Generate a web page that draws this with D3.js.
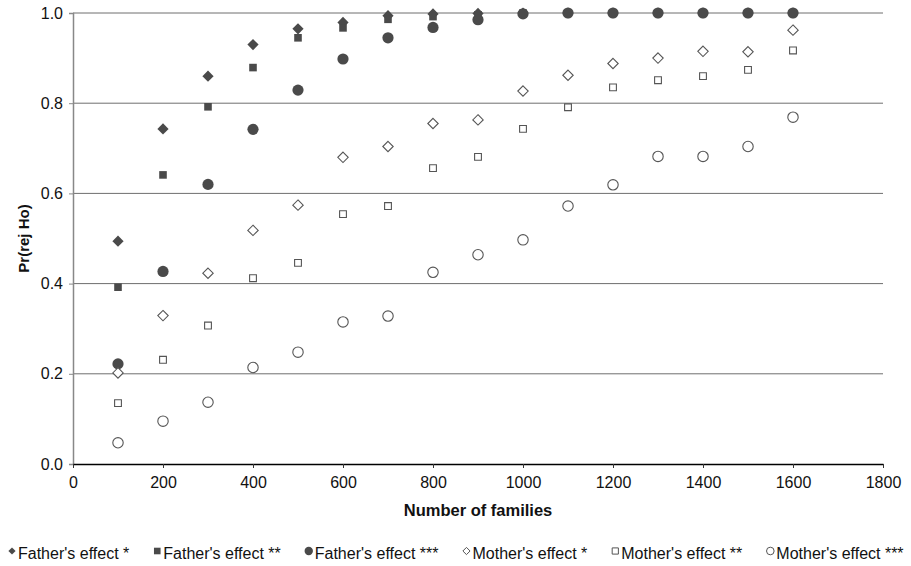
<!DOCTYPE html>
<html>
<head>
<meta charset="utf-8">
<script src="https://cdn.jsdelivr.net/npm/d3@7"></script>
<style>
  body { margin: 0; background: #fff; }
  text { font-family: "Liberation Sans", Arial, sans-serif; }
</style>
</head>
<body>
<script>
// data
var families = [100, 200, 300, 400, 500, 600, 700, 800, 900, 1000, 1100, 1200, 1300, 1400, 1500, 1600];
var fatherOne   = [0.494, 0.743, 0.860, 0.930, 0.965, 0.979, 0.994, 0.998, 0.999, 1, 1, 1, 1, 1, 1, 1];
var fatherTwo   = [0.392, 0.641, 0.792, 0.879, 0.945, 0.967, 0.986, 0.992, 0.996, 1, 1, 1, 1, 1, 1, 1];
var fatherThree = [0.222, 0.427, 0.620, 0.742, 0.829, 0.898, 0.945, 0.968, 0.985, 0.998, 1, 1, 1, 1, 1, 1];
var motherOne   = [0.202, 0.329, 0.423, 0.518, 0.574, 0.680, 0.704, 0.755, 0.763, 0.827, 0.862, 0.888, 0.900, 0.915, 0.914, 0.962];
var motherTwo   = [0.135, 0.231, 0.307, 0.412, 0.446, 0.554, 0.572, 0.656, 0.681, 0.743, 0.791, 0.835, 0.851, 0.860, 0.874, 0.917];
var motherThree = [0.047, 0.095, 0.137, 0.214, 0.248, 0.315, 0.328, 0.425, 0.464, 0.497, 0.572, 0.619, 0.682, 0.682, 0.704, 0.769];
var seriesNames = ["Father's effect *", "Father's effect **", "Father's effect ***",
                   "Mother's effect *", "Mother's effect **", "Mother's effect ***"];
var xTicks = [0, 200, 400, 600, 800, 1000, 1200, 1400, 1600, 1800];
var yTicks = [0, 0.2, 0.4, 0.6, 0.8, 1.0];

var width = 911, height = 566;
var margin = {top: 13, right: 28, bottom: 102, left: 73};
var dark = '#4a4a4a';

var svg = d3.select('body').append('svg').attr('width', width).attr('height', height);

var x = d3.scaleLinear().domain([0, 1800]).range([margin.left, width - margin.right]);
var y = d3.scaleLinear().domain([0, 1]).range([height - margin.bottom, margin.top]);

// shape paths centred on 0,0
function diamond(r) { return 'M0,' + (-r) + 'L' + r + ',0L0,' + r + 'L' + (-r) + ',0Z'; }
function square(r) { return 'M' + (-r) + ',' + (-r) + 'h' + (2*r) + 'v' + (2*r) + 'h' + (-2*r) + 'Z'; }
function circle(r) { return 'M' + r + ',0A' + r + ',' + r + ' 0 1,1 ' + (-r) + ',0A' + r + ',' + r + ' 0 1,1 ' + r + ',0Z'; }

var series = [
  {name: seriesNames[0], values: fatherOne,   shape: diamond, r: 5.6, lr: 3.6, filled: true},
  {name: seriesNames[1], values: fatherTwo,   shape: square,  r: 3.8, lr: 3.3, filled: true},
  {name: seriesNames[2], values: fatherThree, shape: circle,  r: 5.6, lr: 4.2, filled: true},
  {name: seriesNames[3], values: motherOne,   shape: diamond, r: 5.2, lr: 3.6, filled: false},
  {name: seriesNames[4], values: motherTwo,   shape: square,  r: 3.4, lr: 3.1, filled: false},
  {name: seriesNames[5], values: motherThree, shape: circle,  r: 5.2, lr: 3.8, filled: false}
];

// gridlines
svg.append('g').selectAll('line').data(yTicks.slice(1)).enter().append('line')
  .attr('x1', x(0)).attr('x2', x(1800))
  .attr('y1', function(d){ return y(d); }).attr('y2', function(d){ return y(d); })
  .attr('stroke', '#6e6e6e').attr('stroke-width', 1);

// y axis
var yAxis = svg.append('g').attr('transform', 'translate(' + x(0) + ',0)')
  .call(d3.axisLeft(y).tickValues(yTicks).tickFormat(d3.format('.1f')).tickSize(4).tickPadding(6));
yAxis.select('.domain').attr('stroke', '#888').attr('stroke-width', 1.5);
yAxis.selectAll('.tick line').attr('stroke', '#888');
yAxis.selectAll('text').style('font-size', '16px').attr('fill', '#111');

// x axis
var xAxis = svg.append('g').attr('transform', 'translate(0,' + y(0) + ')')
  .call(d3.axisBottom(x).tickValues(xTicks).tickFormat(d3.format('d')).tickSize(4).tickPadding(9).tickSizeOuter(0));
xAxis.select('.domain').attr('stroke', '#000').attr('stroke-width', 1.5);
xAxis.selectAll('.tick line').attr('stroke', '#333');
xAxis.selectAll('text').style('font-size', '16px').attr('fill', '#111');

// axis titles
svg.append('text').text('Number of families')
  .attr('x', (x(0) + x(1800)) / 2).attr('y', 516)
  .attr('text-anchor', 'middle').style('font-size', '16.5px').style('font-weight', 'bold').attr('fill', '#111');

svg.append('text').text('Pr(rej Ho)')
  .attr('transform', 'translate(29,' + ((y(0) + y(1)) / 2) + ') rotate(-90)')
  .attr('text-anchor', 'middle').style('font-size', '15px').style('font-weight', 'bold').attr('fill', '#111');

// points
series.forEach(function(s) {
  svg.append('g').selectAll('path').data(s.values).enter().append('path')
    .attr('d', s.shape(s.r))
    .attr('transform', function(d, i){ return 'translate(' + x(families[i]) + ',' + y(d) + ')'; })
    .attr('fill', s.filled ? dark : '#fff')
    .attr('stroke', s.filled ? 'none' : '#555')
    .attr('stroke-width', 1.1);
});

// legend
var legend = svg.append('g');
var lx = 12, ly = 551;
series.forEach(function(s) {
  legend.append('path').attr('d', s.shape(s.lr))
    .attr('transform', 'translate(' + lx + ',' + ly + ')')
    .attr('fill', s.filled ? dark : '#fff')
    .attr('stroke', s.filled ? 'none' : '#555');
  var t = legend.append('text').text(s.name)
    .attr('x', lx + 6).attr('y', ly + 7.5)
    .style('font-size', '16px').attr('fill', '#111');
  lx += 6 + t.node().getComputedTextLength() + 28;
});
</script>
</body>
</html>
